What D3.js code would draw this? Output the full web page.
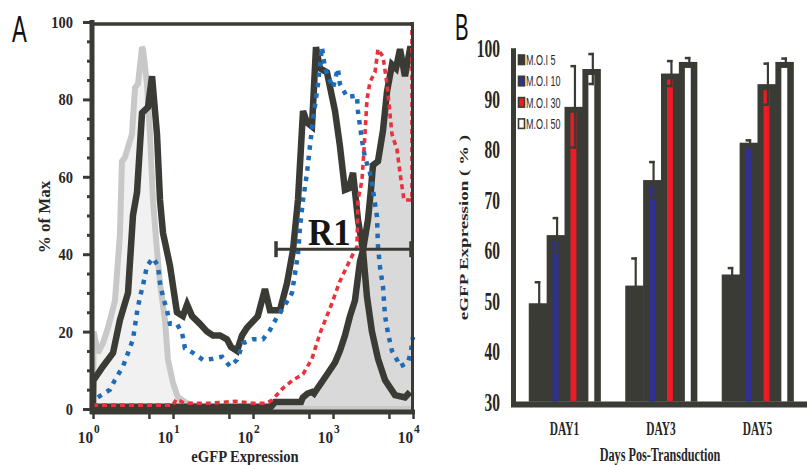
<!DOCTYPE html>
<html><head><meta charset="utf-8">
<script src="https://cdn.jsdelivr.net/npm/d3@7"></script>
<style>
html,body{margin:0;padding:0;background:#fff;}
svg{display:block;}
</style></head>
<body>
<svg id="chart" width="807" height="465"></svg>
<script>
// ================= Panel A data: [eGFP intensity, % of Max] =================
const curveControl = [[1.00,0],[1.02,20],[1.15,14.5],[1.33,17],[1.54,21],[1.88,28],[2.17,45],[2.30,64],[2.51,65],[3.07,71],[3.35,83],[3.65,84],[4.10,93.5],[4.22,93],[4.73,84],[5.16,71],[5.62,54],[6.31,41],[6.88,32.5],[7.94,23],[8.66,12.7],[10.0,6.7],[11.5,3],[15.0,1.5],[21.8,0.5],[40,0],[10000,0]];
const curveLowMOI = [[1.00,0],[1.01,8],[1.06,8],[1.33,11],[1.78,14.5],[2.17,23],[2.74,30],[3.16,50],[3.55,56],[4.10,76.5],[4.87,78],[5.47,86],[6.31,71],[6.88,54],[7.50,45.5],[9.17,37],[11.2,25],[13.3,24],[15.0,27],[17.3,24],[21.7,22],[26.6,20],[31.6,19],[38.7,19],[47.3,18],[53.1,16],[63.1,15],[72.9,19],[84.1,21],[115,24],[141,31],[163,25.5],[217,25.5],[266,32.5],[316,41],[365,54],[422,77],[473,74],[546,73],[613,93.5],[688,88],[841,87],[1060,77],[1220,68],[1410,56.6],[1580,57],[1780,61],[2050,49],[2370,41],[2660,29],[3070,20],[3650,13],[4470,7.5],[5960,3.6],[7940,3],[9170,4.4]];
const curveHighMOI = [[1.0,0.6],[168,0.6],[188,1.8],[398,1.8],[420,3],[480,4],[550,4.4],[580,4],[620,4.9],[866,9.3],[1060,12],[1220,15],[1410,19],[1630,24],[1880,28],[2170,38],[2370,41],[2740,49],[2990,57],[3160,63],[3650,64],[4220,72],[4730,82],[5460,89],[6130,88],[6880,93],[7940,86],[9170,93],[9770,93]];
const curveBlue = [[1.15,3],[1.63,5],[1.88,7.5],[2.37,11],[2.74,14.5],[3.16,18],[3.55,25],[3.87,29],[4.22,32],[4.73,37],[5.62,39],[6.49,37],[6.88,32.5],[7.50,29],[8.41,25.5],[9.17,22],[11.2,22],[13.0,19.6],[14.1,15.7],[17.8,14.5],[23.7,12.7],[31.6,13],[41.0,13.5],[51.6,11],[63.1,12.7],[75.0,17],[100,18],[133,18],[163,20.4],[200,23.8],[237,26],[307,30],[335,35],[365,40],[387,47],[422,54],[473,61],[516,68],[562,74.6],[649,84],[729,93.5],[794,88],[1000,83],[1150,88],[1220,84],[1500,80.6],[1995,81],[2050,77],[2300,69.5],[2510,65],[2900,61],[3160,56.6],[3550,49.6],[3650,42],[3870,36.7],[4220,31.5],[4470,24],[4870,19.6],[5460,15],[6310,12.7],[6880,11],[8660,12],[9440,15],[10000,18.6]];
const curveRed = [[1.0,1],[10,1],[11,2.5],[14,1.5],[30,1.5],[60,2],[100,1.5],[150,1.5],[173,2.3],[237,5.4],[316,7.5],[422,9],[546,13],[688,19.6],[917,26],[1220,33],[1630,38.5],[1995,42],[2050,54],[2300,59],[2510,71],[2660,80],[2900,84.5],[3350,87],[3650,93],[4220,91],[4730,84],[5460,71],[6310,67],[6880,61],[7720,54],[9200,54],[9700,54],[9700,100]];
const gateR1 = [194, 9440];
const gateLevel = 41.3;
const aYTicks = [0, 20, 40, 60, 80, 100];
const aYMinor = [5,10,15,25,30,35,45,50,55,65,70,75,85,90,95];
const aXTicks = [1, 10, 100, 1000, 10000];
const aXExponents = ["0", "1", "2", "3", "4"];
const aXMinor = [5, 50, 500, 5000];

// ================= Panel B data =================
const days = ["DAY1", "DAY3", "DAY5"];
const mois = ["M.O.I 5", "M.O.I 10", "M.O.I 30", "M.O.I 50"];
const moi5Vals  = [49.5, 53.0, 55.2];
const moi10Vals = [63.0, 73.9, 81.3];
const moi30Vals = [88.4, 95.0, 92.9];
const moi50Vals = [95.9, 97.3, 97.3];
const moi5Err  = [4.4, 5.6, 1.5];
const moi10Err = [3.6, 3.8, 0.7];
const moi30Err = [8.3, 2.7, 4.3];
const moi50Err = [3.2, 1.0, 0.9];
const bTicks = [30, 40, 50, 60, 70, 80, 90, 100];

// ================= styles =================
const DARK = "#3b3b35";
const TXT = "#262626";
const SERIF = "'Liberation Serif','Times New Roman',serif";
const SANS = "'Liberation Sans',Arial,sans-serif";
const innerColors = [DARK, "#2e3192", "#ed1c24", "#ffffff"];

const svg = d3.select("#chart");

function label(g, x, y, txt, size, sx, opts = {}) {
  return g.append("text")
    .attr("transform", `translate(${x},${y}) scale(${sx},1)` + (opts.rot ? ` rotate(${opts.rot})` : ""))
    .attr("font-family", opts.family || SERIF)
    .attr("font-weight", opts.weight || "bold")
    .attr("font-size", size)
    .attr("fill", opts.fill || TXT)
    .attr("text-anchor", opts.anchor || "start")
    .text(txt);
}

// ================= Panel A =================
const xA = d3.scaleLog().domain([1, 10000]).range([93, 413]);
const yA = d3.scaleLinear().domain([0, 100]).range([409, 22]);
const gA = svg.append("g");
const lineA = d3.line().x(d => xA(d[0])).y(d => yA(d[1]));
const areaA = d3.area().x(d => xA(d[0])).y0(yA(0)).y1(d => yA(d[1]));

gA.append("path").datum(curveControl).attr("d", areaA).attr("fill", "#f1f1f1");
gA.append("path").datum(curveHighMOI).attr("d", areaA).attr("fill", "#d9d9d9");

gA.append("path").datum(curveControl).attr("d", lineA)
  .attr("fill", "none").attr("stroke", "#c8c8c8").attr("stroke-width", 6)
  .attr("stroke-linejoin", "miter").attr("stroke-miterlimit", 3);
[curveHighMOI, curveLowMOI].forEach(c => {
  gA.append("path").datum(c).attr("d", lineA)
    .attr("fill", "none").attr("stroke", DARK).attr("stroke-width", 6.5)
    .attr("stroke-linejoin", "miter").attr("stroke-miterlimit", 3);
});
gA.append("path").datum(curveBlue).attr("d", lineA)
  .attr("fill", "none").attr("stroke", "#1e6cb8").attr("stroke-width", 4.5)
  .attr("stroke-dasharray", "4.5,6");
gA.append("path").datum(curveRed).attr("d", lineA)
  .attr("fill", "none").attr("stroke", "#e8323c").attr("stroke-width", 3.6)
  .attr("stroke-dasharray", "5,4");

// frame
gA.append("line").attr("x1", 92).attr("x2", 413).attr("y1", 24).attr("y2", 24).attr("stroke", DARK).attr("stroke-width", 3.5);
gA.append("line").attr("x1", 412.5).attr("x2", 412.5).attr("y1", 22).attr("y2", 414).attr("stroke", DARK).attr("stroke-width", 3);

// y axis
const yAxA = gA.append("g").attr("transform", "translate(92,0)")
  .call(d3.axisLeft(yA).tickValues(aYTicks).tickSize(9).tickSizeOuter(0).tickPadding(10));
yAxA.select(".domain").attr("stroke", DARK).attr("stroke-width", 5).attr("d", `M0,${yA(100)-2}V${yA(0)+5}`);
yAxA.selectAll("line").attr("stroke", DARK).attr("stroke-width", 3);
yAxA.selectAll("text").attr("font-family", SERIF).attr("font-weight", "bold").attr("font-size", 17)
  .attr("fill", TXT).attr("x", -19 / 0.85).attr("transform", "scale(0.85,1)");
const yMinA = gA.append("g").attr("transform", "translate(92,0)")
  .call(d3.axisLeft(yA).tickValues(aYMinor).tickSize(5).tickSizeOuter(0).tickFormat(""));
yMinA.select(".domain").remove();
yMinA.selectAll("line").attr("stroke", DARK).attr("stroke-width", 3);

// x axis
const xAxA = gA.append("g").attr("transform", "translate(0,412)")
  .call(d3.axisBottom(xA).tickValues(aXTicks).tickSize(7).tickSizeOuter(0).tickFormat(""));
xAxA.select(".domain").attr("stroke", DARK).attr("stroke-width", 5).attr("d", "M90,0H415");
xAxA.selectAll("line").attr("stroke", DARK).attr("stroke-width", 2.5);
const xMinA = gA.append("g").attr("transform", "translate(0,412)")
  .call(d3.axisBottom(xA).tickValues(aXMinor).tickSize(7).tickSizeOuter(0).tickFormat(""));
xMinA.select(".domain").remove();
xMinA.selectAll("line").attr("stroke", DARK).attr("stroke-width", 2.5);
aXTicks.forEach((v, i) => {
  label(gA, xA(v), 443, "10", 16, 0.95, { anchor: "end" });
  label(gA, xA(v) + 1, 433, aXExponents[i], 12, 0.95);
});

// gate R1
const gy = yA(gateLevel);
gA.append("line").attr("x1", xA(gateR1[0])).attr("x2", xA(gateR1[1])).attr("y1", gy).attr("y2", gy)
  .attr("stroke", DARK).attr("stroke-width", 3);
gateR1.forEach(v => gA.append("line").attr("x1", xA(v)).attr("x2", xA(v)).attr("y1", gy - 8).attr("y2", gy + 8)
  .attr("stroke", DARK).attr("stroke-width", 3.5));
label(gA, 308, 245, "R1", 38, 0.92, { fill: "#161616" });

// titles
label(gA, 50, 217, "% of Max", 17, 1, { anchor: "middle", rot: -90 });
label(gA, 245, 462, "eGFP Expression", 17, 0.86, { anchor: "middle" });
label(gA, 12, 42, "A", 37, 0.6, { family: SANS, weight: "normal", fill: "#111" });

// ================= Panel B =================
const gB = svg.append("g");
const xB0 = d3.scaleBand().domain(days).range([514, 808]).paddingInner(0.259).paddingOuter(0.153);
const xB1 = d3.scaleBand().domain(mois).range([0, xB0.bandwidth()]).padding(0);
const yB = d3.scaleLinear().domain([30, 100]).range([401.7, 48.3]);

const valsB = [moi5Vals, moi10Vals, moi30Vals, moi50Vals];
const errsB = [moi5Err, moi10Err, moi30Err, moi50Err];
const barData = [];
days.forEach((d, di) => mois.forEach((m, mi) => barData.push({ day: d, moi: m, mi, v: valsB[mi][di], e: errsB[mi][di] })));

const bw = xB1.bandwidth();
const bars = gB.selectAll("g.bar").data(barData).enter().append("g").attr("class", "bar")
  .attr("transform", d => `translate(${xB0(d.day) + xB1(d.moi)},0)`);
bars.append("rect").attr("x", 0).attr("width", bw + 0.6)
  .attr("y", d => yB(d.v)).attr("height", d => yB(30) - yB(d.v)).attr("fill", DARK);
bars.filter(d => d.mi > 0).append("rect").attr("x", 6).attr("width", bw - 12)
  .attr("y", d => yB(d.v) + 6).attr("height", d => yB(30) - yB(d.v) - 6)
  .attr("fill", d => innerColors[d.mi]);
// error bars
const ex = bw / 2 + 1.5;
bars.append("line").attr("x1", ex).attr("x2", ex)
  .attr("y1", d => yB(d.v + d.e)).attr("y2", d => yB(d.v - d.e))
  .attr("stroke", DARK).attr("stroke-width", 2.2);
bars.append("line").attr("x1", ex - 4.5).attr("x2", ex + 1.1)
  .attr("y1", d => yB(d.v + d.e) + 1.2).attr("y2", d => yB(d.v + d.e) + 1.2)
  .attr("stroke", DARK).attr("stroke-width", 2.5);
bars.append("line").attr("x1", ex - 4.5).attr("x2", ex + 1.1)
  .attr("y1", d => yB(d.v - d.e) - 1.2).attr("y2", d => yB(d.v - d.e) - 1.2)
  .attr("stroke", DARK).attr("stroke-width", 2.5);

// axes lines
gB.append("line").attr("x1", 513.5).attr("x2", 513.5).attr("y1", yB(100)).attr("y2", 407)
  .attr("stroke", DARK).attr("stroke-width", 5);
gB.append("line").attr("x1", 511).attr("x2", 807).attr("y1", 404.5).attr("y2", 404.5)
  .attr("stroke", DARK).attr("stroke-width", 6);

// y tick labels
const yAxB = gB.append("g").attr("transform", "translate(500,0)")
  .call(d3.axisLeft(yB).tickValues(bTicks).tickSize(0).tickPadding(0));
yAxB.select(".domain").remove();
yAxB.selectAll("text").attr("font-family", SERIF).attr("font-weight", "bold").attr("font-size", 25)
  .attr("fill", TXT).attr("x", 0).attr("dy", "0.34em").attr("transform", "scale(0.62,1)");

// x tick labels
const xAxB = gB.append("g").attr("transform", "translate(0,435)")
  .call(d3.axisBottom(xB0).tickSize(0).tickPadding(0));
xAxB.select(".domain").remove();
xAxB.selectAll("text").attr("font-family", SERIF).attr("font-weight", "bold").attr("font-size", 19)
  .attr("fill", TXT).attr("y", 0).attr("dy", 0).attr("transform", "scale(0.6,1)");

// legend
mois.forEach((m, i) => {
  const ly = 55 + i * 21.3;
  gB.append("rect").attr("x", 518.5).attr("y", ly).attr("width", 6).attr("height", 9.5)
    .attr("fill", innerColors[i]).attr("stroke", DARK).attr("stroke-width", 1.6);
  label(gB, 526, ly + 10, m, 15, 0.6, { family: SANS, weight: "normal", fill: "#2a2a2a" });
});

// titles
label(gB, 660, 460.5, "Days Pos-Transduction", 18.5, 0.66, { anchor: "middle" });
label(gB, 468, 227.5, "eGFP Expression ( % )", 19, 0.62, { anchor: "middle", rot: -90 });
label(gB, 455, 40, "B", 37, 0.55, { family: SANS, weight: "normal", fill: "#111" });
</script>
</body></html>
